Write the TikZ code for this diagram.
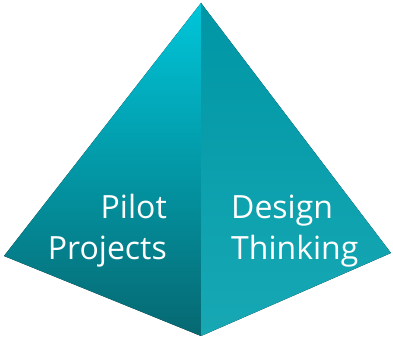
\documentclass[tikz,border=0pt]{standalone}
\usepackage{fontspec}
\setmainfont{Open Sans}
\usetikzlibrary{positioning}
\definecolor{facetop}{HTML}{00C6DA}
\definecolor{facebottom}{HTML}{066871}
\definecolor{sidetop}{HTML}{0096A5}
\definecolor{sidebottom}{HTML}{17A8B4}
\tikzset{
    %style for the two faces
    leftface/.style={
		top color=facetop,
		bottom color=facebottom,
		draw=none},
	rightface/.style={
		top color=sidetop,
		bottom color=sidebottom,
		draw=none},
	%style for the labels
	label/.style={
		text=white,
		font=\fontsize{32}{41}\selectfont,
		inner sep=0pt}
}

\begin{document}
\begin{tikzpicture}[x=1pt, y=1pt]
			\useasboundingbox (0,0) rectangle (393,339);
			\coordinate (apex) at (201,336);
			\coordinate (west) at (4,83);
			\coordinate (south) at (201,3);
			\coordinate (east) at (391,86);
			\fill[leftface]	(apex)--(west)--(south)--cycle;
			\fill[rightface]	(apex)--(south)--(east)--cycle;
			\node[label, align=right, anchor=base east]	(pilot)	at (167,79)	{Pilot\\Projects};
			\node[label, align=left, anchor=base west]	(design)	at (231,79)	{Design\\Thinking};
		\end{tikzpicture}
\end{document}
